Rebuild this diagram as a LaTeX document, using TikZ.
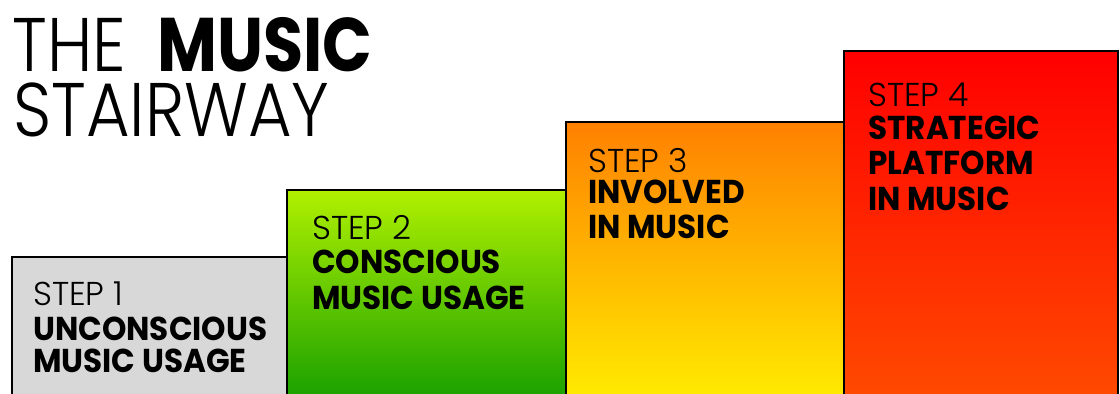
\documentclass[tikz,border=0pt]{standalone}
\usepackage{fontspec}
\setmainfont{Poppins}
\newfontfamily\lightfont{Poppins Light}
\newfontfamily\steptextfont{Poppins}[FakeStretch=0.94]
\newfontfamily\titlelightfont{Poppins Light}[FakeStretch=0.88]
\newfontfamily\titleboldfont{Poppins}[FakeStretch=0.86]
\definecolor{stairgray}{RGB}{216,216,216}
\definecolor{stairgreentop}{RGB}{176,240,0}
\definecolor{stairgreenbot}{RGB}{24,160,0}
\definecolor{stairorangetop}{RGB}{255,128,0}
\definecolor{stairorangebot}{RGB}{255,236,0}
\definecolor{stairredtop}{RGB}{255,0,0}
\definecolor{stairredbot}{RGB}{255,74,0}

\begin{document}
\begin{tikzpicture}[x=0.025cm, y=-0.025cm,
    stair/.style={draw=black, line width=2pt},
    steplabel/.style={anchor=base west, inner sep=0pt, font=\lightfont\fontsize{23.5}{24}\selectfont},
    steptext/.style={anchor=base west, inner sep=0pt, font=\steptextfont\bfseries\fontsize{23.5}{24}\selectfont},
    titletext/.style={anchor=base west, inner sep=0pt, text height=38pt, text depth=0pt, font=\fontsize{54}{54}\selectfont}]

    \clip (0,0) rectangle (1120,394);
    \fill[white] (0,0) rectangle (1120,394);

    % Title
    \node[titletext] (titlea) at (12,72) {\titlelightfont THE};
    \node[titletext] (titleb) at (157,72) {\titleboldfont\bfseries MUSIC};
    \node[titletext] (titlec) at (13,137) {\titlelightfont STAIRWAY};

    % Step 1
    \draw[stair, fill=stairgray] (12,257) rectangle (288,400);
    \node[steplabel] (s1a) at (33,305) {STEP 1};
    \node[steptext] (s1b) at (33,340) {UNCONSCIOUS};
    \node[steptext] (s1c) at (33,372) {MUSIC USAGE};

    % Step 2
    \draw[stair, top color=stairgreentop, bottom color=stairgreenbot] (287,190) rectangle (566,400);
    \node[steplabel] (s2a) at (312,239) {STEP 2};
    \node[steptext] (s2b) at (312,273) {CONSCIOUS};
    \node[steptext] (s2c) at (312,309) {MUSIC USAGE};

    % Step 3
    \draw[stair, top color=stairorangetop, bottom color=stairorangebot] (566,122) rectangle (844,400);
    \node[steplabel] (s3a) at (588,172) {STEP 3};
    \node[steptext] (s3b) at (588,203) {INVOLVED};
    \node[steptext] (s3c) at (588,238) {IN MUSIC};

    % Step 4
    \draw[stair, top color=stairredtop, bottom color=stairredbot] (844,51) rectangle (1118,400);
    \node[steplabel] (s4a) at (868,107) {STEP 4};
    \node[steptext] (s4b) at (868,140) {STRATEGIC};
    \node[steptext] (s4c) at (868,175) {PLATFORM};
    \node[steptext] (s4d) at (868,210) {IN MUSIC};
\end{tikzpicture}
\end{document}
